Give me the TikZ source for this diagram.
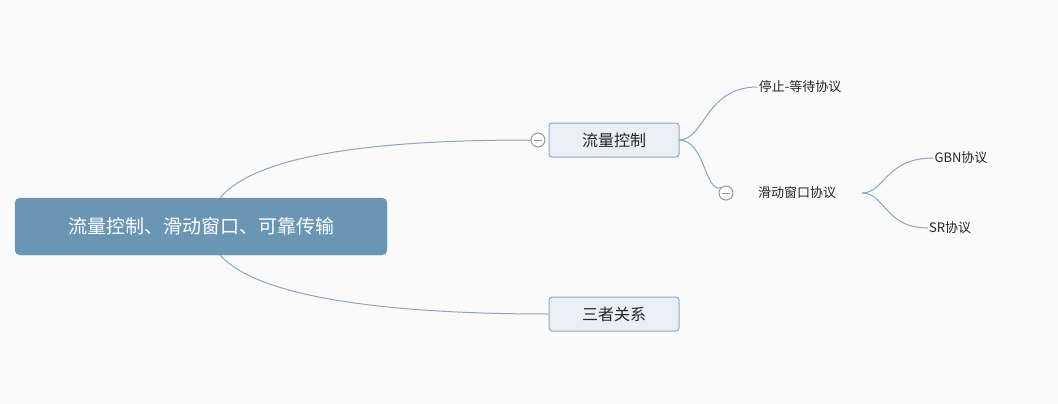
\documentclass[tikz,border=0pt]{standalone}
\usepackage{fontspec}
\newfontfamily\cjk{Noto Sans CJK SC}
\definecolor{bg}{HTML}{FAFAFA}
\definecolor{ln}{HTML}{8AA7C2}
\definecolor{rootc}{HTML}{6A96B4}
\definecolor{subf}{HTML}{E9EFF5}
\definecolor{subd}{HTML}{8DAAC6}
\begin{document}
\begin{tikzpicture}[x=1pt,y=-1pt,
  rootbox/.style={draw=rootc,fill=rootc,rounded corners=5pt,minimum width=372pt,minimum height=57pt,text=white,font=\cjk\fontsize{19}{19}\selectfont},
  subbox/.style={draw=subd,fill=subf,rounded corners=3pt,line width=1pt,minimum width=130pt,minimum height=34pt,font=\cjk\fontsize{16}{16}\selectfont,text=black!85},
  leaf/.style={font=\cjk\fontsize{13}{13}\selectfont,text=black!85,inner sep=1pt},
  conn/.style={draw=ln,line width=1pt},
  fold/.style={circle,draw=gray!80,fill=white,line width=1pt,minimum size=14pt,inner sep=0pt,path picture={\draw[gray!80,line width=1pt] ([xshift=-4pt]path picture bounding box.center)--([xshift=4pt]path picture bounding box.center);}}]
\fill[bg] (0,0) rectangle (1058,404);
\useasboundingbox (0,0) rectangle (1058,404);
\node[rootbox] (root) at (201,226.5) {流量控制、滑动窗口、可靠传输};
\node[subbox] (flow) at (614,140) {流量控制};
\node[subbox] (three) at (614,314) {三者关系};
\node[fold] (f1) at (538,140) {};
\node[leaf] (stop) at (800,87) {停止-等待协议};
\node[leaf] (slide) at (797,193) {滑动窗口协议};
\node[fold] (f2) at (726,193) {};
\node[leaf] (gbn) at (961,158) {GBN协议};
\node[leaf] (sr) at (950,228) {SR协议};
\coordinate (r1) at (220,198);
\coordinate (r2) at (220,255);
\coordinate (fr) at (679,140);
\coordinate (sl) at (862,193);
\draw[conn] (r1) .. controls (260,150) and (400,140) .. (f1.west);
\draw[conn] (r2) .. controls (260,300) and (400,314) .. (three.west);
\draw[conn] (fr) .. controls (705,140) and (705,87) .. (stop.west);
\draw[conn] (fr) .. controls (705,140) and (705,193) .. (f2.north west);
\draw[conn] (sl) .. controls (885,193) and (885,158) .. (gbn.west);
\draw[conn] (sl) .. controls (885,193) and (885,228) .. (sr.west);
\end{tikzpicture}
\end{document}
